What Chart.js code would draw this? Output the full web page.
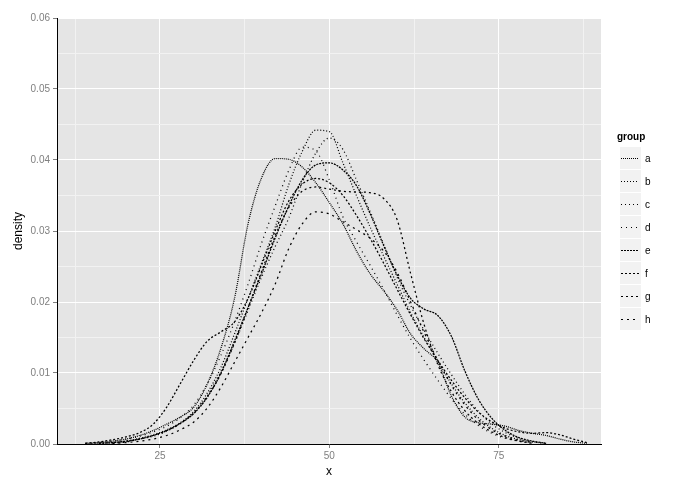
<!DOCTYPE html>
<html>
<head>
<meta charset="utf-8">
<script src="https://cdn.jsdelivr.net/npm/chart.js@4"></script>
<style>
  body { margin: 0; background: #fff; }
  canvas { display: block; }
</style>
</head>
<body>
<canvas id="densityChart" width="686" height="489"></canvas>
<script>
// ── Data ───────────────────────────────────────────────────────
// x positions the densities were read at
const xs = [14,16,18,20,22,24,26,28,30,32,34,36,38,40,42,44,46,48,50,
            52,54,56,58,60,62,64,66,68,70,72,74,76,78,80,82,84,86,88];

const groups = ['a','b','c','d','e','f','g','h'];

const densA = [0.0001,0.0002,0.0004,0.0007,0.0012,0.0019,0.0028,0.0038,0.0052,0.0085,0.0135,0.0205,0.031,0.0375,0.0402,0.0401,0.039,0.0368,0.034,
               0.031,0.0272,0.024,0.0216,0.0189,0.0155,0.0134,0.0115,0.0068,0.0038,0.003,0.0028,0.0025,0.0019,0.0015,0.0012,0.0007,0.0003,0.0001];
const densB = [0,0.0001,0.0002,0.0004,0.0008,0.0013,0.002,0.003,0.0046,0.0072,0.0108,0.0155,0.0205,0.0255,0.0305,0.0365,0.0412,0.0442,0.044,
               0.0396,0.035,0.0306,0.0265,0.0225,0.0185,0.015,0.0117,0.0085,0.0058,0.0037,0.0022,0.0012,0.0006,0.0003,0.0001,null,null,null];
const densC = [null,0.0001,0.0002,0.0004,0.0007,0.0011,0.0018,0.0029,0.0044,0.0068,0.0102,0.0142,0.0188,0.0235,0.0278,0.0318,0.0368,0.041,0.0431,
               0.0415,0.0372,0.0328,0.0282,0.0235,0.0195,0.016,0.0128,0.0098,0.007,0.0046,0.0028,0.0016,0.0008,0.0003,0.0001,null,null,null];
const densD = [0.0001,0.0002,0.0004,0.0007,0.0011,0.0017,0.0025,0.0037,0.0055,0.0085,0.0125,0.0172,0.0225,0.0283,0.0335,0.0385,0.0418,0.0413,0.0372,
               0.032,0.0285,0.0252,0.0218,0.0182,0.0148,0.0118,0.009,0.0064,0.0042,0.0026,0.0015,0.0008,0.0004,0.0001,null,null,null,null];
const densE = [null,0.0001,0.0002,0.0004,0.0007,0.0012,0.0019,0.0029,0.0043,0.0066,0.01,0.0145,0.0192,0.024,0.029,0.0335,0.0372,0.0393,0.0396,
               0.0386,0.0364,0.0325,0.028,0.0238,0.0205,0.019,0.0181,0.0152,0.0103,0.0063,0.0036,0.0019,0.0009,0.0004,0.0001,null,null,null];
const densF = [0.0001,0.0003,0.0006,0.001,0.0016,0.0028,0.0052,0.0085,0.0118,0.0145,0.0158,0.0172,0.0205,0.0252,0.03,0.0342,0.0366,0.0374,0.0368,
               0.035,0.0322,0.029,0.0255,0.0218,0.0182,0.0148,0.0118,0.009,0.0065,0.0045,0.0031,0.0022,0.0017,0.0015,0.0016,0.0013,0.0007,0.0002];
const densG = [null,null,0.0001,0.0003,0.0007,0.0012,0.0019,0.0029,0.0044,0.0067,0.0099,0.0142,0.0192,0.0243,0.0293,0.0333,0.0356,0.0362,0.0359,
               0.0356,0.0355,0.0354,0.0346,0.0316,0.024,0.0168,0.0112,0.0074,0.0047,0.0029,0.0017,0.0009,0.0004,0.0001,null,null,null,null];
const densH = [null,null,0.0001,0.0002,0.0004,0.0007,0.0012,0.002,0.0031,0.0051,0.008,0.0115,0.015,0.0185,0.0225,0.0275,0.031,0.0327,0.0324,
               0.0313,0.0302,0.029,0.0272,0.0242,0.02,0.0157,0.0118,0.0083,0.0055,0.0034,0.002,0.0011,0.0005,0.0002,null,null,null,null];

const series = [densA, densB, densC, densD, densE, densF, densG, densH];

// linetypes per group ("11", "12", ... "24")
const dashes = [[1,1],[1,2],[1,3],[1,4],[2,1],[2,2],[2,3],[2,4]];

const xTicks = [25, 50, 75];
const yTicks = [0, 0.01, 0.02, 0.03, 0.04, 0.05, 0.06];
const yTickLabels = ['0.00','0.01','0.02','0.03','0.04','0.05','0.06'];

// ── Helpers ────────────────────────────────────────────────────
const near = (a, b) => Math.abs(a - b) < 1e-9;
const isMajorX = v => xTicks.some(t => near(t, v));
const isMajorY = v => yTicks.some(t => near(t, v));

// minor breaks sit halfway between the major ones
function withMinor(major, lo, hi) {
  const step = major[1] - major[0];
  const out = [];
  for (let v = major[0] - step; v <= major[major.length - 1] + step + 1e-12; v += step / 2) {
    if (v >= lo - 1e-12 && v <= hi + 1e-12) out.push(+v.toFixed(6));
  }
  return out;
}

// ── Plugins ────────────────────────────────────────────────────
const panelBg = {
  id: 'panelBg',
  beforeDraw(chart) {
    const { ctx, chartArea: a } = chart;
    ctx.save();
    ctx.fillStyle = '#E5E5E5';
    ctx.fillRect(a.left, a.top, a.right - a.left, a.bottom - a.top);
    ctx.restore();
  },
};

const groupLegend = {
  id: 'groupLegend',
  afterDraw(chart) {
    const ctx = chart.ctx;
    const x0 = 620, y0 = 147, keyW = 21, keyH = 22, gap = 23;
    ctx.save();
    ctx.fillStyle = '#000';
    ctx.font = 'bold 10px "Liberation Sans", Arial, sans-serif';
    ctx.textBaseline = 'middle';
    ctx.textAlign = 'left';
    ctx.fillText('group', 617, 137);

    groups.forEach((g, i) => {
      const y = y0 + i * gap;
      ctx.fillStyle = '#F2F2F2';
      ctx.fillRect(x0, y, keyW, keyH);
      ctx.strokeStyle = '#000';
      ctx.lineWidth = 1;
      ctx.setLineDash(dashes[i]);
      ctx.beginPath();
      ctx.moveTo(x0 + 1, Math.round(y + keyH / 2) + 0.5);
      ctx.lineTo(x0 + 19, Math.round(y + keyH / 2) + 0.5);
      ctx.stroke();
      ctx.setLineDash([]);
      ctx.fillStyle = '#000';
      ctx.font = '10px "Liberation Sans", Arial, sans-serif';
      ctx.fillText(g, 645, y + keyH / 2 + 1);
    });
    ctx.restore();
  },
};

// ── Chart ──────────────────────────────────────────────────────
const X_MIN = 9.8, X_MAX = 90.1;
const tickFont = { family: '"Liberation Sans", Arial, sans-serif', size: 10 };
const titleFont = { family: '"Liberation Sans", Arial, sans-serif', size: 12 };

const datasets = series.map((vals, i) => ({
  label: groups[i],
  data: xs.map((x, j) => ({ x, y: vals[j] })),
  borderColor: '#000',
  borderWidth: 1.25,
  borderDash: dashes[i],
  pointRadius: 0,
  fill: false,
  cubicInterpolationMode: 'monotone',
  spanGaps: false,
}));

new Chart(document.getElementById('densityChart'), {
  type: 'line',
  data: { datasets },
  plugins: [panelBg, groupLegend],
  options: {
    responsive: false,
    animation: false,
    layout: { padding: { top: 18, right: 85, left: 0, bottom: 0 } },
    plugins: { legend: { display: false }, tooltip: { enabled: false } },
    scales: {
      x: {
        type: 'linear',
        min: X_MIN,
        max: X_MAX,
        afterBuildTicks: s => { s.ticks = withMinor(xTicks, X_MIN, X_MAX).map(v => ({ value: v })); },
        afterFit: s => { s.height = 45; },
        ticks: {
          autoSkip: false, maxRotation: 0, padding: 2,
          color: '#7F7F7F', font: tickFont,
          callback: v => isMajorX(v) ? String(v) : '',
        },
        grid: {
          color: c => isMajorX(c.tick.value) ? '#FFFFFF' : '#F2F2F2',
          tickColor: c => isMajorX(c.tick.value) ? '#7F7F7F' : 'rgba(0,0,0,0)',
          tickLength: 4,
          lineWidth: 1,
        },
        border: { display: true, color: '#000', width: 1 },
        title: { display: true, text: 'x', color: '#000', font: titleFont, padding: { top: 0, bottom: 10 } },
      },
      y: {
        type: 'linear',
        min: 0,
        max: 0.06,
        afterBuildTicks: s => { s.ticks = withMinor(yTicks, 0, 0.06).map(v => ({ value: v })); },
        afterFit: s => { s.width = 57; },
        ticks: {
          autoSkip: false, padding: 3,
          color: '#7F7F7F', font: tickFont,
          callback: v => {
            const k = yTicks.findIndex(t => near(t, v));
            return k >= 0 ? yTickLabels[k] : '';
          },
        },
        grid: {
          color: c => isMajorY(c.tick.value) ? '#FFFFFF' : '#F2F2F2',
          tickColor: c => isMajorY(c.tick.value) ? '#7F7F7F' : 'rgba(0,0,0,0)',
          tickLength: 4,
          lineWidth: 1,
        },
        border: { display: true, color: '#000', width: 1 },
        title: { display: true, text: 'density', color: '#000', font: titleFont, padding: { top: 11, bottom: 0 } },
      },
    },
  },
});
</script>
</body>
</html>
